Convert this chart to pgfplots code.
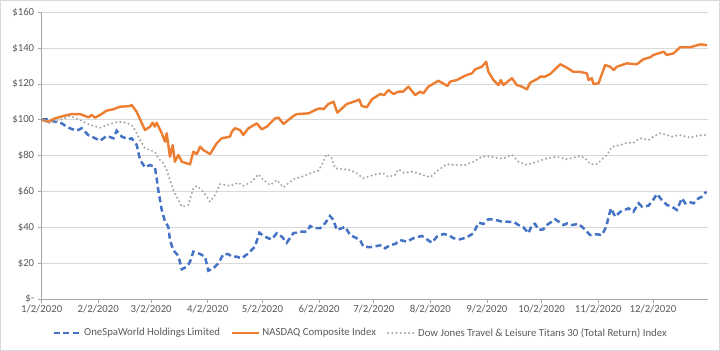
\documentclass[border=0pt]{standalone}
\usepackage{pgfplots}
\pgfplotsset{compat=1.18}
\usepackage{fontspec}
\setmainfont{Carlito}
\definecolor{oswblue}{HTML}{4472C4}
\definecolor{nasorange}{HTML}{ED7D31}
\definecolor{djgray}{HTML}{A5A5A5}
\definecolor{axisgray}{HTML}{A6A6A6}
\definecolor{gridgray}{HTML}{D9D9D9}
\definecolor{labelgray}{HTML}{595959}
\definecolor{framegray}{HTML}{D9D9D9}
\begin{document}
\begin{tikzpicture}
\useasboundingbox (0,0) rectangle (720bp,351bp);
\draw[framegray, line width=0.75bp] (0.5bp,0.5bp) rectangle (719.5bp,350.5bp);
\begin{axis}[
  at={(41.7bp,52bp)}, anchor=south west,
  scale only axis, width=666bp, height=286.7bp,
  xmin=0, xmax=365, ymin=0, ymax=160,
  axis x line*=bottom, axis y line*=left,
  axis line style={draw=axisgray, line width=0.75bp},
  tick align=outside, major tick length=4bp,
  tick style={draw=axisgray, line width=0.75bp},
  ymajorgrids, grid style={draw=gridgray, line width=0.75bp},
  xtick={0,31,60,91,121,152,182,213,244,274,305,335},
  xticklabels={1/2/2020,2/2/2020,3/2/2020,4/2/2020,5/2/2020,6/2/2020,7/2/2020,8/2/2020,9/2/2020,10/2/2020,11/2/2020,12/2/2020},
  ytick={0,20,40,60,80,100,120,140,160},
  yticklabels={\$-\hspace{2bp},\$20,\$40,\$60,\$80,\$100,\$120,\$140,\$160},
  ticklabel style={font=\fontsize{10.8}{13}\selectfont, text=labelgray},
  xticklabel style={yshift=1bp},
  legend style={at={(axis description cs:0.479,-0.1186)}, anchor=center, draw=none, fill=none,
    font=\fontsize{10.8}{13}\selectfont, text=labelgray,
    /tikz/every even column/.append style={column sep=9bp}},
  legend columns=3, legend cell align=left,
  legend image code/.code={\draw[#1] (0bp,0bp) -- (27bp,0bp);},
]
\addplot[oswblue, line width=2.5bp, dash pattern=on 6bp off 3.5bp] coordinates {
(0,100.3) (2.7,100.3) (7.3,98.9) (11,98) (14.6,95.6) (19.2,93.9) (21.9,95.3) (25.5,91.5) (28.3,90.2) (32,88.3) (35.6,91) (39.3,89.7) (41.1,93.9) (43.9,90.6) (47.5,89.1) (49.3,89.7) (52.1,85.9) (53.9,77.6) (56.6,73.5) (59.4,74.8) (62.1,73.5) (63.9,60.8) (65.8,49.7) (67.6,43.1) (69.4,40.3) (70.3,32.9) (72.1,27.3) (74.9,24) (76.8,16.6) (79.5,18) (81.3,20.8) (83.1,26.4) (86.8,25.1) (89.5,23.6) (91.3,15.8) (94.1,17.1) (96.8,19.9) (99.6,25.1) (102.3,25.1) (104.2,23.6) (106.9,23.6) (109.6,22.7) (113.3,25.5) (116.9,29.2) (119.3,37) (121.5,35.2) (124.2,33.9) (126.1,33.3) (128.8,36.7) (131.6,34.8) (134.3,31.4) (137.9,36.7) (142.5,37.6) (145.3,37.6) (147.1,40.7) (149.8,39.5) (152.6,39.5) (155.3,42.2) (158,46.3) (159.9,44.1) (161.7,38.5) (164.5,39.5) (166.3,40.3) (169,35.7) (172.7,33.9) (174.5,32.9) (176.3,29.2) (180,28.9) (183.7,29.6) (186.4,30.1) (188.2,28.3) (191,30.1) (193.7,30.7) (196.4,32.9) (200.1,32) (203.7,33.9) (208.3,35.2) (211.1,33.3) (213.8,31.4) (216.6,34.8) (220.2,36.3) (222.9,35.7) (225.7,33.9) (229.3,33.3) (233,34.4) (236.6,36.7) (239.4,42.6) (242.1,41.9) (244.8,44.5) (247.6,44.5) (251.3,43.4) (255.8,43.1) (258.6,43.1) (261.3,41.3) (264,40) (266.8,36.7) (268.6,41.3) (270.4,41.9) (272.3,38.5) (275,38.9) (276.9,41.3) (281.4,44.5) (286,41.3) (288,42.2) (290.6,41.3) (294.2,41.9) (297,39.5) (300.6,35.7) (304.3,36.1) (307,35.7) (309.4,40.3) (310.7,45.9) (312,50.6) (314.3,45.9) (317.1,48.7) (321.6,50.6) (324.3,48.7) (327.1,53.4) (329,51.5) (332.6,52.1) (335,55.2) (337.2,58.6) (339.9,55.2) (342.6,52.5) (345.4,51.5) (348.1,49.7) (350.9,56.2) (352.7,53.4) (354.5,54.3) (357.2,53.4) (360,56.2) (361.8,57.1) (364.2,59.9)
};
\addlegendentry{OneSpaWorld Holdings Limited}
\addplot[nasorange, line width=2.4bp, line join=round] coordinates {
(0,100) (3.6,98.9) (7.3,100.8) (11.8,102.1) (16.4,103.2) (21,103.2) (25.6,101.4) (27.4,102.7) (29.2,101.2) (32,102.7) (35.6,105.1) (39.3,105.9) (42.9,107.3) (48.4,107.7) (49.3,108.3) (52,104.5) (56.6,94.3) (59.4,96.2) (60.8,98.4) (62,96.2) (63,98.4) (65.8,92.5) (67.6,87.8) (68.5,92.5) (70.3,79.4) (71.8,85.9) (73,76.6) (74.9,80.4) (76.8,76.6) (79.5,75.7) (81.3,75.2) (83.1,82.2) (85,80.9) (86.8,85) (88.6,83.1) (92.3,80.9) (95.9,86.9) (98.7,89.7) (103.2,90.6) (104.2,93.4) (106,95.3) (108.7,94.3) (110.5,91.5) (113.3,95.3) (117.9,98) (120.6,94.7) (123.4,96.2) (127.9,100.8) (129.7,101.2) (132.5,97.7) (137.9,102.1) (139.8,103.2) (146.2,103.6) (150.8,105.9) (152.6,106.4) (154.4,105.9) (157.1,108.8) (159.9,110.1) (162,104) (167.2,108.8) (172.7,110.7) (174,111.4) (175.4,107.7) (178.2,107) (180.9,111.4) (185.5,114.4) (187.7,113.8) (190,116.6) (192.8,114.4) (195.5,115.7) (198,115.7) (201,118.5) (202.5,116.6) (204.7,113.8) (207.4,115.7) (209.2,114.8) (211.9,118.5) (217.4,121.8) (219.3,120.7) (222.4,118.9) (223.8,121.3) (227.5,122.2) (229.3,123.2) (233,125) (235.7,125.9) (237.6,128.2) (241.2,129.6) (243.6,132.4) (244.8,126.8) (247.6,122.2) (250.3,119.4) (251.6,122.2) (253,119.4) (257.7,123.2) (260.4,119.4) (263.2,118.5) (265.9,117) (267.7,120.7) (272.3,123.2) (273.2,124.1) (275.9,124.1) (278.7,125.6) (284.2,131) (287.8,129.1) (291.4,126.8) (295.1,126.8) (298.8,125.9) (299.7,122.2) (301.5,123.2) (302.4,120) (305.2,120.4) (308.8,130.6) (311.6,129.6) (313.4,127.8) (315.2,129.6) (320.7,131.5) (326.2,131) (329.8,133.8) (333.5,134.9) (335.3,136.2) (340.8,138) (342.6,136.2) (346.3,137.1) (349.9,140.5) (355.4,140.5) (360.9,142.1) (364.6,141.7)
};
\addlegendentry{NASDAQ Composite Index}
\addplot[djgray, line width=2.3bp, line cap=round, dash pattern=on 0bp off 4.2bp] coordinates {
(0,100) (4.5,98) (10,99.9) (15.5,102.1) (21,99.9) (26.5,97.1) (32,95.6) (37.4,97.7) (42,98.9) (46.6,98.4) (50.2,96.2) (53.9,88.7) (56.6,84.1) (59.4,83.1) (62,82.2) (63.9,78.5) (66.7,75.7) (68.5,72) (70.3,66.4) (72.1,60.8) (74.9,55.2) (76.8,51.5) (80.4,52.5) (83.1,61.8) (85,63.1) (88.6,59.9) (92.3,54.3) (95,58) (97.8,64.2) (103.2,63.1) (107.8,64.9) (110.5,63.1) (115.1,65.5) (118.8,69.6) (121.5,66.4) (125.2,63.6) (128.8,66.4) (132.5,62.3) (137.9,66.8) (142.5,68.2) (147.1,70.1) (151.6,71.6) (153.5,74.8) (156.2,80.9) (159,78.5) (160.8,72.9) (165.4,72.4) (169,72) (172.7,70.1) (176.3,67.4) (180,68.6) (183.7,69.8) (187.3,70.1) (190,68.2) (193.7,69.2) (195.5,72.4) (198.2,70.5) (202.9,71) (207.4,69.8) (212.9,67.9) (217.4,72) (222,75.2) (226.6,74.8) (232,74.8) (236.6,76.6) (241.2,79.4) (245.8,79.6) (250.3,78.5) (253,78.5) (257.7,80.4) (261.3,76.6) (265.9,74.8) (271.4,76.6) (276.9,78.5) (282.3,79.4) (287.8,78) (295.1,79.8) (297.9,78.5) (300.6,75.3) (304.3,75.3) (309.8,80.4) (312.5,85) (317.1,85.9) (320.7,87.2) (324.3,87.2) (328,89.7) (332.6,88.7) (335.3,90.6) (339,92.5) (342.6,91.5) (345.4,90.6) (349.9,91.5) (355.4,90) (359.1,91.1) (362.7,91.5) (364.5,91.5)
};
\addlegendentry{Dow Jones Travel \& Leisure Titans 30 (Total Return) Index}
\end{axis}
\end{tikzpicture}
\end{document}
